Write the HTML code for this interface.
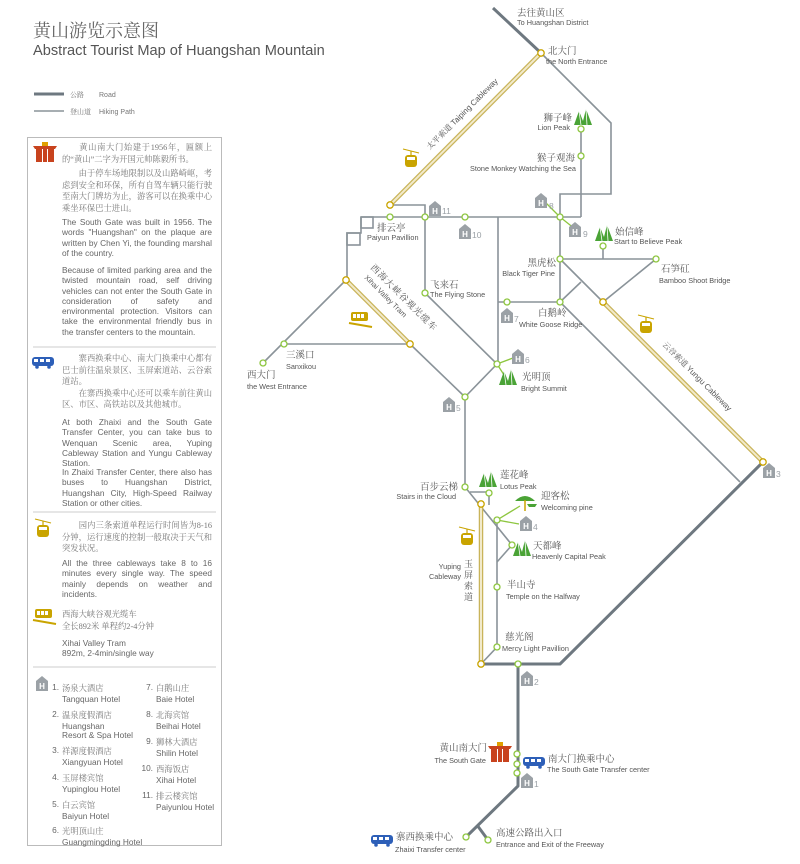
<!DOCTYPE html>
<html><head><meta charset="utf-8">
<style>
html,body{margin:0;padding:0;background:#fff;}
body{width:800px;height:864px;position:relative;overflow:hidden;font-family:"Liberation Sans","Noto Sans CJK SC",sans-serif;color:#555;}
.p{position:absolute;font-size:8.3px;line-height:10.3px;color:#666;text-align:justify;}
.zh{font-family:"Liberation Serif","Noto Serif CJK SC",serif;font-size:8.3px;line-height:11.5px;color:#777;}
.h{position:absolute;font-size:8.3px;line-height:9.5px;color:#666;white-space:nowrap;}
.h .n{position:absolute;right:100%;margin-right:3px;}
svg{position:absolute;left:0;top:0;}
</style></head><body>
<svg width="800" height="864" viewBox="0 0 800 864" font-family="Liberation Sans, Noto Sans CJK SC, sans-serif">
<defs>
<g id="H"><path d="M-6,-3 L0,-8 L6,-3 L6,7 L-6,7 Z" fill="#9ba1a6"/><text x="0" y="5" font-size="8" font-weight="bold" fill="#fff" text-anchor="middle">H</text></g>
<g id="M"><path d="M-9,6 L-4,-8 L0,2 L3,-10 L9,6 Z" fill="#4aa336"/><path d="M-4,-8 L-2,6 M3,-10 L4,6" stroke="#fff" stroke-width="0.8"/></g>
<g id="G"><line x1="-8" y1="-10" x2="8" y2="-6" stroke="#c9a400" stroke-width="1"/><line x1="0" y1="-8" x2="0" y2="-4" stroke="#c9a400" stroke-width="1.2"/><rect x="-6" y="-4" width="12" height="12" rx="3" fill="#c9a400"/><rect x="-4" y="-2" width="8" height="3" fill="#fff"/></g>
<g id="B"><rect x="-11" y="-5" width="22" height="9" rx="3" fill="#2d5fb8"/><rect x="-9" y="-3" width="4" height="3" fill="#fff"/><rect x="-3" y="-3" width="4" height="3" fill="#fff"/><rect x="3" y="-3" width="4" height="3" fill="#fff"/><circle cx="-6" cy="5" r="1.8" fill="#2d5fb8"/><circle cx="6" cy="5" r="1.8" fill="#2d5fb8"/></g>
<g id="T"><rect x="-9" y="-3" width="6" height="13" fill="#c8431e"/><rect x="3" y="-3" width="6" height="13" fill="#c8431e"/><rect x="-2" y="-3" width="4" height="13" fill="#c8431e"/><path d="M-12,-6 L12,-6 L10,-3 L-10,-3Z" fill="#c8431e"/><rect x="-3" y="-10" width="6" height="4" fill="#e0a000"/></g>
<g id="TR"><rect x="-9" y="-6" width="17" height="9" rx="2" fill="#c9a400"/><rect x="-7" y="-4" width="3" height="4" fill="#fff"/><rect x="-3" y="-4" width="3" height="4" fill="#fff"/><rect x="1" y="-4" width="3" height="4" fill="#fff"/><path d="M-11,5 L12,9" stroke="#c9a400" stroke-width="2"/></g>
</defs>

<text x="33" y="37" font-size="18" fill="#666" font-family="Liberation Serif, Noto Serif CJK SC, serif">黄山游览示意图</text>
<text x="33" y="55" font-size="14.6" fill="#555">Abstract Tourist Map of Huangshan Mountain</text>
<line x1="34" y1="94" x2="64" y2="94" stroke="#6e7880" stroke-width="3"/>
<text x="70" y="97" font-size="7" fill="#777" font-family="Liberation Serif, Noto Serif CJK SC, serif">公路</text><text x="99" y="97" font-size="7" fill="#777">Road</text>
<line x1="34" y1="111" x2="64" y2="111" stroke="#8a9399" stroke-width="1.5"/>
<text x="70" y="114" font-size="7" fill="#777" font-family="Liberation Serif, Noto Serif CJK SC, serif">登山道</text><text x="99" y="114" font-size="7" fill="#777">Hiking Path</text>

<rect x="27.5" y="137.5" width="194" height="708" fill="none" stroke="#bbb" stroke-width="1"/>
<line x1="33" y1="347" x2="216" y2="347" stroke="#ccc"/>
<line x1="33" y1="512" x2="216" y2="512" stroke="#ccc"/>
<line x1="33" y1="667" x2="216" y2="667" stroke="#ccc"/>
<use href="#T" x="45" y="152"/>
<use href="#B" x="43" y="362"/>
<use href="#G" x="43" y="529"/>
<use href="#TR" x="44" y="615"/>
<use href="#H" x="42" y="684"/>

<g fill="none" stroke="#8a9399" stroke-width="1.6">
<path d="M541,53 L611,123 L611,194 L560,194 L560,302"/>
<path d="M581,129 L581,217"/>
<path d="M361,217 L581,217"/>
<path d="M390,205 L425,205 L425,217"/>
<path d="M361,217 V233 H347 V280"/>
<rect x="361" y="217" width="12" height="11"/>
<rect x="347" y="233" width="13" height="12"/>
<path d="M346,280 L263,363"/>
<path d="M284,344 L410,344"/>
<path d="M410,344 L465,397"/>
<path d="M425,217 L425,293 L497,364 L465,397"/>
<path d="M498,217 L498,364"/>
<path d="M498,302 L560,302"/>
<path d="M560,259 L656,259 L603,302 L560,259"/>
<path d="M603,246 L603,259"/>
<path d="M560,302 L581,282"/>
<path d="M560,302 L740,482"/>
<path d="M465,397 L465,487 L512,545"/>
<path d="M470,492 L489,492 L489,505"/>
<path d="M497,520 L497,647 L481,664"/>
<path d="M497,562 L512,545"/>
</g>
<g stroke="#8dc63f" stroke-width="1.3">
<line x1="560" y1="217" x2="544" y2="201"/><line x1="560" y1="217" x2="575" y2="229"/>
<line x1="497" y1="364" x2="513" y2="358"/><line x1="497" y1="364" x2="506" y2="378"/>
<line x1="497" y1="520" x2="520" y2="506"/><line x1="497" y1="520" x2="519" y2="524"/>
</g>
<g fill="none" stroke="#6e7880" stroke-width="3" stroke-linejoin="round">
<path d="M493,8 L541,53"/>
<path d="M481,664 L560,664 L763,462"/>
<path d="M518,664 L518,786 L466,837"/>
<path d="M477,825 L488,840"/>
</g>
<g stroke="#c9b45a" stroke-width="4.5" fill="none"><path d="M541,53 L390,205"/><path d="M603,302 L763,462"/><path d="M481,504 L481,664"/><path d="M346,280 L410,344"/></g>
<g stroke="#f2eacb" stroke-width="2" fill="none"><path d="M541,53 L390,205"/><path d="M603,302 L763,462"/><path d="M481,504 L481,664"/><path d="M346,280 L410,344"/></g>

<g fill="#fff" stroke="#8dc63f" stroke-width="1.3">
<circle cx="581" cy="129" r="3"/><circle cx="581" cy="156" r="3"/><circle cx="390" cy="217" r="3"/><circle cx="425" cy="217" r="3"/><circle cx="465" cy="217" r="3"/><circle cx="560" cy="217" r="3"/>
<circle cx="603" cy="246" r="3"/><circle cx="560" cy="259" r="3"/><circle cx="656" cy="259" r="3"/><circle cx="507" cy="302" r="3"/><circle cx="560" cy="302" r="3"/>
<circle cx="425" cy="293" r="3"/><circle cx="284" cy="344" r="3"/><circle cx="263" cy="363" r="3"/><circle cx="497" cy="364" r="3"/><circle cx="465" cy="397" r="3"/>
<circle cx="465" cy="487" r="3"/><circle cx="489" cy="493" r="3"/><circle cx="497" cy="520" r="3"/><circle cx="512" cy="545" r="3"/><circle cx="497" cy="587" r="3"/><circle cx="497" cy="647" r="3"/><circle cx="518" cy="664" r="3"/>
<circle cx="517" cy="754" r="3"/><circle cx="517" cy="764" r="3"/><circle cx="517" cy="773" r="3"/><circle cx="466" cy="837" r="3"/><circle cx="488" cy="840" r="3"/>
</g>
<g fill="#fff" stroke="#c9a400" stroke-width="1.3">
<circle cx="541" cy="53" r="3.2"/><circle cx="390" cy="205" r="3.2"/><circle cx="346" cy="280" r="3.2"/><circle cx="410" cy="344" r="3.2"/><circle cx="603" cy="302" r="3.2"/><circle cx="763" cy="462" r="3.2"/><circle cx="481" cy="504" r="3.2"/><circle cx="481" cy="664" r="3.2"/>
</g>

<use href="#H" x="541" y="201"/><use href="#H" x="575" y="230"/><use href="#H" x="435" y="209"/><use href="#H" x="465" y="232"/><use href="#H" x="507" y="316"/><use href="#H" x="518" y="357"/><use href="#H" x="449" y="405"/><use href="#H" x="769" y="471"/><use href="#H" x="526" y="524"/><use href="#H" x="527" y="679"/><use href="#H" x="527" y="781"/>
<g font-size="8.5" fill="#9ba1a6"><text x="549" y="209">8</text><text x="583" y="237">9</text><text x="442" y="214">11</text><text x="472" y="238">10</text><text x="514" y="322">7</text><text x="525" y="363">6</text><text x="456" y="411">5</text><text x="776" y="477">3</text><text x="533" y="530">4</text><text x="534" y="685">2</text><text x="534" y="787">1</text></g>
<use href="#M" x="583" y="119"/><use href="#M" x="604" y="235"/><use href="#M" x="508" y="379"/><use href="#M" x="488" y="481"/><use href="#M" x="522" y="550"/>
<g><path d="M515,501 Q525,491 535,501 Z" fill="#4aa336"/><path d="M527,504 L537,504 L535,507 L529,507Z" fill="#4aa336"/><line x1="525" y1="500" x2="525" y2="511" stroke="#c9a400" stroke-width="1.5"/></g>
<use href="#G" x="411" y="159"/><use href="#G" x="646" y="325"/><use href="#G" x="467" y="537"/>
<use href="#TR" x="360" y="318"/>
<use href="#T" x="500" y="752"/>
<use href="#B" x="534" y="762"/><use href="#B" x="382" y="840"/>

<g font-family="Liberation Serif, Noto Serif CJK SC, serif" font-size="9.5" fill="#555">
<text x="517" y="16">去往黄山区</text>
<text x="548" y="54">北大门</text>
<text x="572" y="121" text-anchor="end">狮子峰</text>
<text x="575" y="161" text-anchor="end">猴子观海</text>
<text x="615" y="235">始信峰</text>
<text x="556" y="266" text-anchor="end">黑虎松</text>
<text x="661" y="272">石笋矼</text>
<text x="538" y="316">白鹅岭</text>
<text x="377" y="231">排云亭</text>
<text x="430" y="288">飞来石</text>
<text x="286" y="358">三溪口</text>
<text x="247" y="378">西大门</text>
<text x="522" y="380">光明顶</text>
<text x="458" y="490" text-anchor="end">百步云梯</text>
<text x="500" y="478">莲花峰</text>
<text x="541" y="499">迎客松</text>
<text x="533" y="549">天都峰</text>
<text x="507" y="588">半山寺</text>
<text x="505" y="640">慈光阁</text>
<text x="487" y="751" text-anchor="end">黄山南大门</text>
<text x="548" y="762">南大门换乘中心</text>
<text x="396" y="840">寨西换乘中心</text>
<text x="496" y="836">高速公路出入口</text>
<text font-size="9"><tspan x="464" y="567">玉</tspan><tspan x="464" y="578">屏</tspan><tspan x="464" y="589">索</tspan><tspan x="464" y="600">道</tspan></text>
</g>
<g font-size="7.3" fill="#555">
<text x="517" y="25">To Huangshan District</text>
<text x="546" y="64">the North Entrance</text>
<text x="570" y="130" text-anchor="end">Lion Peak</text>
<text x="576" y="171" text-anchor="end">Stone Monkey Watching the Sea</text>
<text x="614" y="244">Start to Believe Peak</text>
<text x="555" y="276" text-anchor="end">Black Tiger Pine</text>
<text x="659" y="283">Bamboo Shoot Bridge</text>
<text x="519" y="327">White Goose Ridge</text>
<text x="367" y="240">Paiyun Pavillion</text>
<text x="430" y="297">The Flying Stone</text>
<text x="286" y="369">Sanxikou</text>
<text x="247" y="389">the West Entrance</text>
<text x="521" y="391">Bright Summit</text>
<text x="456" y="499" text-anchor="end">Stairs in the Cloud</text>
<text x="500" y="489">Lotus Peak</text>
<text x="541" y="510">Welcoming pine</text>
<text x="532" y="559">Heavenly Capital Peak</text>
<text x="506" y="599">Temple on the Halfway</text>
<text x="502" y="651">Mercy Light Pavillion</text>
<text x="461" y="569" text-anchor="end">Yuping</text>
<text x="461" y="579" text-anchor="end">Cableway</text>
<text x="486" y="763" text-anchor="end">The South Gate</text>
<text x="547" y="772">The South Gate Transfer center</text>
<text x="395" y="852">Zhaixi Transfer center</text>
<text x="496" y="847">Entrance and Exit of the Freeway</text>
</g>
<g font-size="8" fill="#555">
<text transform="translate(430,150) rotate(-45)"><tspan font-family="Liberation Serif, Noto Serif CJK SC, serif">太平索道 </tspan>Taiping Cableway</text>
<text transform="translate(662,345) rotate(45)"><tspan font-family="Liberation Serif, Noto Serif CJK SC, serif">云谷索道 </tspan>Yungu Cableway</text>
<text transform="translate(364,278) rotate(45)" font-size="7.3">Xihai Valley Tram</text>
<text transform="translate(370,268) rotate(45)" font-family="Liberation Serif, Noto Serif CJK SC, serif" font-size="9" letter-spacing="1">西海大峡谷观光缆车</text>
</g>
</svg>

<div class="p zh" style="left:62px;top:142px;width:150px;">&emsp;&emsp;黄山南大门始建于1956年，匾额上的“黄山”二字为开国元帅陈毅所书。</div>
<div class="p zh" style="left:62px;top:168px;width:150px;">&emsp;&emsp;由于停车场地限制以及山路崎岖，考虑到安全和环保，所有自驾车辆只能行驶至南大门牌坊为止，游客可以在换乘中心乘坐环保巴士进山。</div>
<div class="p" style="left:62px;top:217px;width:150px;">The South Gate was built in 1956. The words "Huangshan" on the plaque are written by Chen Yi, the founding marshal of the country.</div>
<div class="p" style="left:62px;top:265px;width:150px;">Because of limited parking area and the twisted mountain road, self driving vehicles can not enter the South Gate in consideration of safety and environmental protection. Visitors can take the environmental friendly bus in the transfer centers to the mountain.</div>

<div class="p zh" style="left:62px;top:353px;width:150px;">&emsp;&emsp;寨西换乘中心、南大门换乘中心都有巴士前往温泉景区、玉屏索道站、云谷索道站。<br>&emsp;&emsp;在寨西换乘中心还可以乘车前往黄山区、市区、高铁站以及其他城市。</div>
<div class="p" style="left:62px;top:417px;width:150px;">At both Zhaixi and the South Gate Transfer Center, you can take bus to Wenquan Scenic area, Yuping Cableway Station and Yungu Cableway Station.</div>
<div class="p" style="left:62px;top:467px;width:150px;">In Zhaixi Transfer Center, there also has buses to Huangshan District, Huangshan City, High-Speed Railway Station or other cities.</div>

<div class="p zh" style="left:62px;top:520px;width:150px;">&emsp;&emsp;园内三条索道单程运行时间皆为8-16分钟，运行速度的控制一般取决于天气和突发状况。</div>
<div class="p" style="left:62px;top:558px;width:150px;">All the three cableways take 8 to 16 minutes every single way. The speed mainly depends on weather and incidents.</div>

<div class="p zh" style="left:62px;top:609px;width:150px;text-align:left;">西海大峡谷观光缆车<br>全长892米 单程约2-4分钟</div>
<div class="p" style="left:62px;top:638px;width:150px;text-align:left;">Xihai Valley Tram<br>892m, 2-4min/single way</div>

<div class="h" style="left:62px;top:683px;"><span class="n">1.</span><span class="zh">汤泉大酒店</span><br>Tangquan Hotel</div>
<div class="h" style="left:62px;top:710px;"><span class="n">2.</span><span class="zh">温泉度假酒店</span><br>Huangshan<br>Resort &amp; Spa Hotel</div>
<div class="h" style="left:62px;top:746px;"><span class="n">3.</span><span class="zh">祥源度假酒店</span><br>Xiangyuan Hotel</div>
<div class="h" style="left:62px;top:773px;"><span class="n">4.</span><span class="zh">玉屏楼宾馆</span><br>Yupinglou Hotel</div>
<div class="h" style="left:62px;top:800px;"><span class="n">5.</span><span class="zh">白云宾馆</span><br>Baiyun Hotel</div>
<div class="h" style="left:62px;top:826px;"><span class="n">6.</span><span class="zh">光明顶山庄</span><br>Guangmingding Hotel</div>
<div class="h" style="left:156px;top:683px;"><span class="n">7.</span><span class="zh">白鹅山庄</span><br>Baie Hotel</div>
<div class="h" style="left:156px;top:710px;"><span class="n">8.</span><span class="zh">北海宾馆</span><br>Beihai Hotel</div>
<div class="h" style="left:156px;top:737px;"><span class="n">9.</span><span class="zh">狮林大酒店</span><br>Shilin Hotel</div>
<div class="h" style="left:156px;top:764px;"><span class="n">10.</span><span class="zh">西海饭店</span><br>Xihai Hotel</div>
<div class="h" style="left:156px;top:791px;"><span class="n">11.</span><span class="zh">排云楼宾馆</span><br>Paiyunlou Hotel</div>
</body></html>
